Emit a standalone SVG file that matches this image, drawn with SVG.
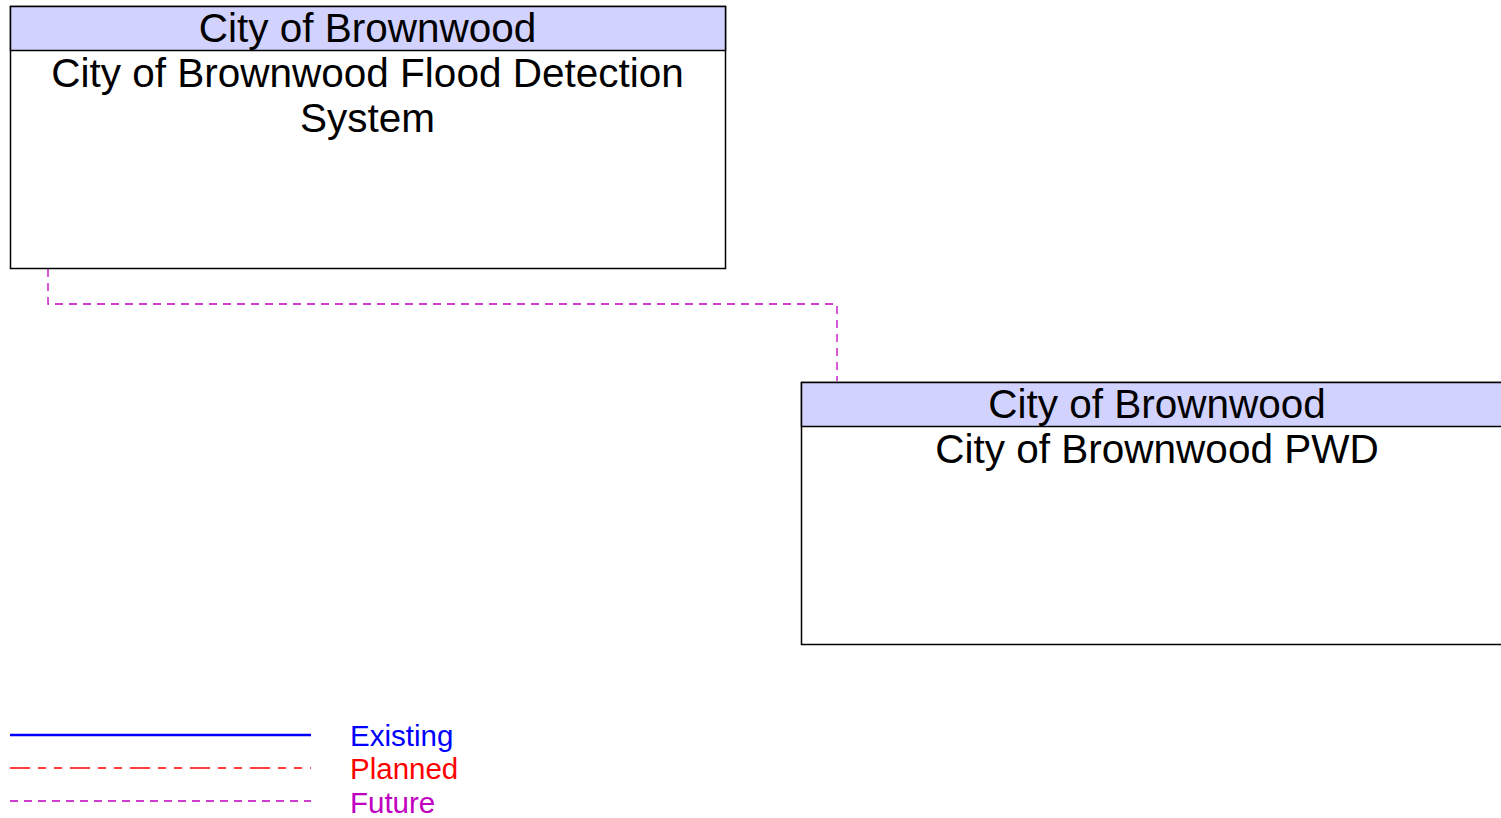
<svg xmlns="http://www.w3.org/2000/svg" width="1501" height="818" viewBox="0 0 1501 818">
<style>
.box{fill:#fff;stroke:#000;stroke-width:1.5}
.hdr{fill:#d2d2ff;stroke:#000;stroke-width:1.5}
.t{font-family:"Liberation Sans",Arial,sans-serif;font-size:40.5px;fill:#000;text-anchor:middle}
.lg{font-family:"Liberation Sans",Arial,sans-serif;font-size:29.5px}
.fut{fill:none;stroke:#c000c0;stroke-width:1.3;stroke-dasharray:8,6}
</style>
<rect width="1501" height="818" fill="#fff"/>
<g id="connectors">
<polyline class="fut" points="48,269 48,304 837,304 837,381"/>
</g>
<g id="node-flood">
<rect class="box" x="10.5" y="6.5" width="715" height="262"/>
<rect class="hdr" x="10.5" y="6.5" width="715" height="44"/>
<text class="t" x="367.5" y="42">City of Brownwood</text>
<text class="t" x="367.5" y="87">City of Brownwood Flood Detection</text>
<text class="t" x="367.5" y="132">System</text>
</g>
<g id="node-pwd">
<rect class="box" x="801.5" y="382.5" width="715" height="262"/>
<rect class="hdr" x="801.5" y="382.5" width="715" height="44"/>
<text class="t" x="1157" y="418">City of Brownwood</text>
<text class="t" x="1157" y="463">City of Brownwood PWD</text>
</g>
<g id="legend">
<line x1="10" y1="735" x2="311" y2="735" stroke="#0000ff" stroke-width="2.5"/>
<line x1="10" y1="768" x2="311" y2="768" stroke="#ff0000" stroke-width="1.3" stroke-dasharray="20,8,8,8,8,8"/>
<line x1="10" y1="801" x2="311" y2="801" stroke="#c000c0" stroke-width="1.3" stroke-dasharray="8,6"/>
<text class="lg" x="350" y="746" fill="#0000ff">Existing</text>
<text class="lg" x="350" y="779" fill="#ff0000">Planned</text>
<text class="lg" x="350" y="813" fill="#c000c0">Future</text>
</g>
</svg>
